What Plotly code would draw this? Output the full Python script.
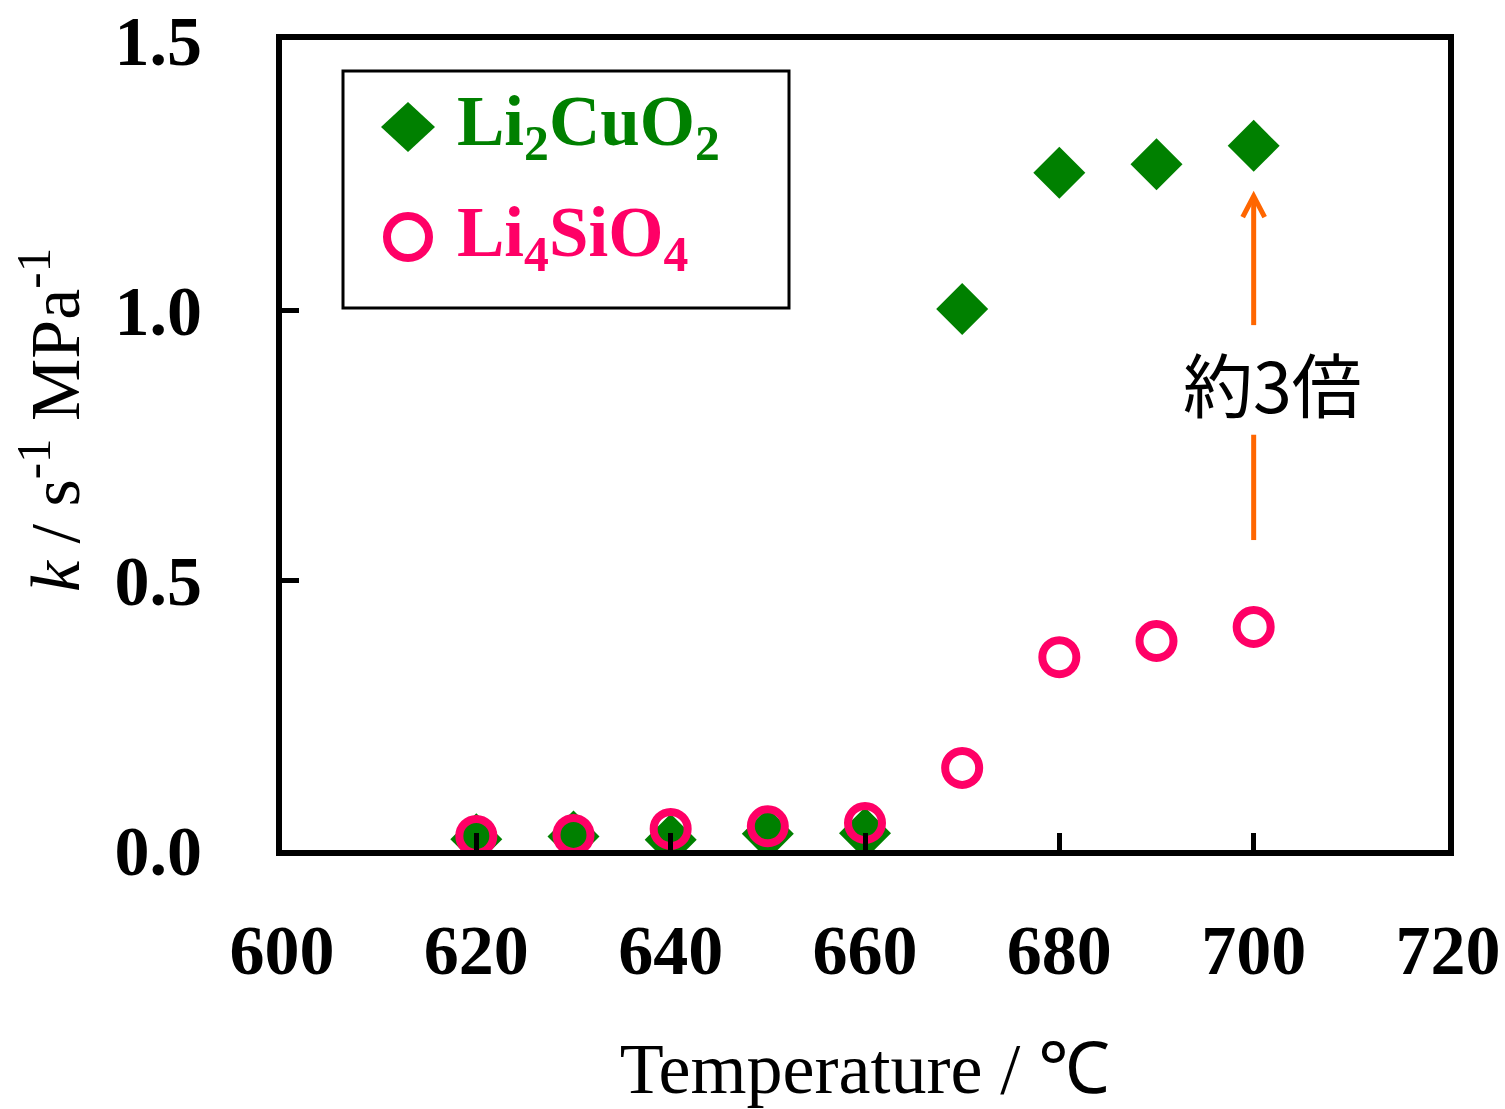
import plotly.graph_objects as go

temps = [620, 630, 640, 650, 660, 670, 680, 690, 700]
k_li2cuo2 = [0.020, 0.025, 0.019, 0.030, 0.031, 1.002, 1.254, 1.270, 1.304]
k_li4sio4 = [0.026, 0.028, 0.039, 0.044, 0.050, 0.152, 0.357, 0.387, 0.413]

x_ticks = [600, 620, 640, 660, 680, 700, 720]
y_ticks = [0.0, 0.5, 1.0, 1.5]
y_ticklabels = ["0.0", "0.5", "1.0", "1.5"]

GREEN = "#008000"
PINK = "#FF0066"
ORANGE = "#FF6600"
SERIF = "Liberation Serif, Times New Roman, serif"

fig = go.Figure()
fig.add_trace(go.Scatter(
    x=temps, y=k_li2cuo2, mode="markers", name="Li2CuO2",
    marker=dict(symbol="diamond", size=40, color=GREEN, line=dict(width=0)),
))
fig.add_trace(go.Scatter(
    x=temps, y=k_li4sio4, mode="markers", name="Li4SiO4",
    marker=dict(symbol="circle-open", size=34, color=PINK, line=dict(width=8, color=PINK)),
))

# ---- manual legend (paper coords) ----
W, H = 1505, 1109
L, R, T, B = 282, 57, 40, 259
PW, PH = W - L - R, H - T - B


def px(xp):
    return (xp - L) / PW


def py(yp):
    return (H - B - yp) / PH


fig.add_shape(type="rect", xref="paper", yref="paper",
              x0=px(343), x1=px(789), y0=py(308), y1=py(71),
              line=dict(color="black", width=3), fillcolor="white", layer="above")
# diamond
cx, cy = 408, 127
fig.add_shape(type="path", xref="paper", yref="paper",
              path=f"M {px(cx-27)} {py(cy)} L {px(cx)} {py(cy-25)} L {px(cx+27)} {py(cy)} L {px(cx)} {py(cy+25)} Z",
              fillcolor=GREEN, line=dict(width=0), layer="above")
# circle
cx2, cy2, r = 408, 237, 21
fig.add_shape(type="circle", xref="paper", yref="paper",
              x0=px(cx2-r), x1=px(cx2+r), y0=py(cy2+r), y1=py(cy2-r),
              line=dict(color=PINK, width=8), layer="above")
fig.add_annotation(xref="paper", yref="paper", x=px(455), y=py(127),
                   xanchor="left", yanchor="middle", showarrow=False,
                   text="<b>Li<sub>2</sub>CuO<sub>2</sub></b>",
                   font=dict(family=SERIF, size=71, color=GREEN))
fig.add_annotation(xref="paper", yref="paper", x=px(455), y=py(237),
                   xanchor="left", yanchor="middle", showarrow=False,
                   text="<b>Li<sub>4</sub>SiO<sub>4</sub></b>",
                   font=dict(family=SERIF, size=71, color=PINK))

# ---- arrow with gap for text ----
fig.add_shape(type="line", x0=700, x1=700, y0=0.574, y1=0.769,
              line=dict(color=ORANGE, width=5), xref="x", yref="y")
fig.add_shape(type="line", x0=700, x1=700, y0=0.972, y1=1.205,
              line=dict(color=ORANGE, width=5), xref="x", yref="y")
fig.add_shape(type="path", xref="x", yref="y",
              path="M 698.87 1.172 L 700 1.211 L 701.13 1.172",
              line=dict(color=ORANGE, width=5))
fig.add_annotation(x=701.9, y=0.865, xref="x", yref="y", text="約3倍",
                   showarrow=False,
                   font=dict(family="Noto Sans CJK JP", size=70, color="black"))

# y-axis title as annotation
fig.add_annotation(xref="paper", yref="paper", x=px(50), y=py(420),
                   text="<i>k</i> / s<sup>-1</sup> MPa<sup>-1</sup>", textangle=-90,
                   showarrow=False, xanchor="center", yanchor="middle",
                   font=dict(family=SERIF, size=70, color="black"))

fig.update_layout(
    width=W, height=H,
    margin=dict(l=L, r=R, t=T, b=B),
    plot_bgcolor="white", paper_bgcolor="white",
    showlegend=False,
    xaxis=dict(
        range=[600, 720], tickvals=x_ticks, ticktext=[str(v) for v in x_ticks],
        ticks="inside", ticklen=17, tickwidth=5, tickcolor="black",
        showline=True, linewidth=6, linecolor="black", mirror=True,
        showgrid=False, zeroline=False, automargin=False,
        tickfont=dict(family=SERIF, size=70, color="black", weight="bold"),
        ticklabelstandoff=34,
        title=dict(text="Temperature / ℃", standoff=58,
                   font=dict(family=SERIF, size=72, color="black")),
    ),
    yaxis=dict(
        range=[0, 1.5], tickvals=y_ticks, ticktext=y_ticklabels,
        ticks="inside", ticklen=17, tickwidth=5, tickcolor="black",
        showline=True, linewidth=6, linecolor="black", mirror=True,
        showgrid=False, zeroline=False, automargin=False,
        tickfont=dict(family=SERIF, size=70, color="black", weight="bold"),
        ticklabelstandoff=60,
    ),
)

fig.write_html("out.html")
